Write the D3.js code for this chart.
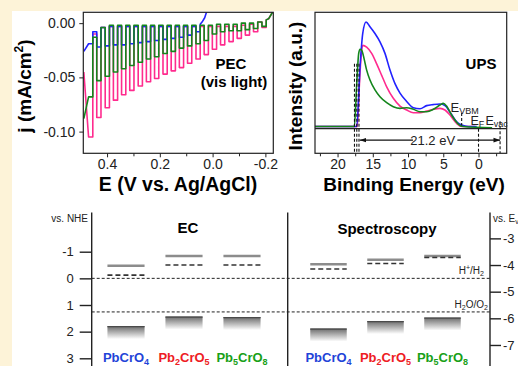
<!DOCTYPE html>
<html>
<head>
<meta charset="utf-8">
<script src="https://cdn.jsdelivr.net/npm/d3@7"></script>
<style>
  body { margin: 0; background: #fdf3d8; }
  svg { display: block; font-family: "Liberation Sans", Arial, sans-serif; }
</style>
</head>
<body>
<svg id="chart" width="518" height="366"></svg>
<script>
// ---- PEC: chopped-light sweep (E in V vs Ag/AgCl, j in mA/cm2) ----
const chopOn  = [0.470, 0.439, 0.407, 0.376, 0.345, 0.314, 0.282, 0.251, 0.220, 0.188, 0.157, 0.126, 0.095, 0.063, 0.032, 0.001, -0.030, -0.062, -0.093, -0.124, -0.155, -0.187];
const chopOff = [0.454, 0.423, 0.391, 0.360, 0.329, 0.298, 0.266, 0.235, 0.204, 0.172, 0.141, 0.110, 0.079, 0.047, 0.016, -0.015, -0.046, -0.078, -0.109, -0.140, -0.171, -0.203];

const pinkStart = [0.488, -0.045];
const pinkLight = [-0.105, -0.087, -0.078, -0.071, -0.066, -0.062, -0.058, -0.054, -0.051, -0.047, -0.044, -0.041, -0.037, -0.033, -0.029, -0.024, -0.020, -0.017, -0.014, -0.011, -0.008, -0.004];
const pinkDark  = [-0.010, -0.004, -0.003, -0.003, -0.003, -0.003, -0.003, -0.003, -0.003, -0.003, -0.003, -0.003, -0.003, -0.003, -0.003, -0.003, -0.003, -0.003, -0.002, -0.001, 0.001, 0.003];
const pinkTail  = [[-0.212, 0.004], [-0.222, 0.008], [-0.232, 0.013]];

const blueStart = [0.488, -0.026];
const blueLight = [-0.019, -0.022, -0.021, -0.020, -0.020, -0.019, -0.018, -0.017, -0.016, -0.015, -0.014, -0.013, -0.011, -0.008];
const blueDark  = [-0.008, -0.004, -0.003, -0.003, -0.003, -0.003, -0.003, -0.003, -0.003, -0.003, -0.003, -0.003, -0.003, -0.001];
const blueTail  = [[0.040, 0.001], [0.030, 0.005], [0.022, 0.011], [0.016, 0.016]];

const greenStart = [0.488, -0.088];
const greenLight = [-0.068, -0.053, -0.049, -0.045, -0.042, -0.039, -0.036, -0.033, -0.031, -0.028, -0.026, -0.023, -0.021, -0.019, -0.016, -0.010, -0.008, -0.007, -0.007, -0.006, -0.005, -0.003];
const greenDark  = [-0.013, -0.004, -0.002, -0.002, -0.002, -0.002, -0.002, -0.002, -0.002, -0.002, -0.002, -0.002, -0.002, -0.002, -0.002, -0.001, -0.001, -0.001, 0.000, 0.000, 0.001, 0.003];
const greenTail  = [[-0.212, 0.004], [-0.222, 0.008], [-0.232, 0.012]];

const pecYTicks = [0, -0.05, -0.10];
const pecXTicks = [0.4, 0.2, 0.0, -0.2];
const pecXMinor = [0.3, 0.1, -0.1];

// ---- UPS: [binding energy eV, intensity a.u.] ----
const upsBlue = [[23.2, 0], [17.6, 0], [17.28, 0], [16.81, 0.57], [16.43, 0.89], [15.96, 1.0], [15.40, 0.955], [14.69, 0.89], [13.98, 0.81], [13.27, 0.70], [12.56, 0.54], [11.85, 0.41], [11.14, 0.32], [10.19, 0.24], [9.25, 0.18], [8.30, 0.17], [7.36, 0.20], [6.41, 0.21], [5.47, 0.215], [4.76, 0.20], [4.05, 0.14], [3.10, 0.046], [2.39, 0.014], [1.45, 0], [0.26, 0]];
const upsPink = [[23.2, 0], [17.4, 0], [17.2, 0], [16.9, 0.40], [16.65, 0.68], [16.43, 0.777], [15.87, 0.76], [15.16, 0.70], [14.45, 0.60], [13.74, 0.49], [13.03, 0.38], [12.09, 0.27], [11.14, 0.196], [10.19, 0.158], [9.25, 0.132], [8.30, 0.132], [7.36, 0.148], [6.41, 0.165], [5.47, 0.174], [4.76, 0.158], [4.05, 0.11], [3.10, 0.03], [2.39, 0], [0.5, 0]];
const upsGreen = [[23.2, 0], [17.62, 0], [17.28, 0.41], [17.0, 0.70], [16.81, 0.74], [16.57, 0.73], [16.24, 0.65], [15.87, 0.54], [15.40, 0.445], [14.69, 0.35], [13.98, 0.285], [13.03, 0.228], [12.09, 0.19], [11.14, 0.174], [10.19, 0.18], [9.25, 0.165], [8.30, 0.142], [7.36, 0.142], [6.41, 0.165], [5.47, 0.206], [5.0, 0.222], [4.53, 0.196], [3.82, 0.11], [2.87, 0.024], [2.16, 0], [-1.93, -0.012]];
const upsCutoffs = [17.6, 17.27, 16.96];
const eVBM = 2.39, eFermi = 0, eVac = -3.06;
const upsXTicks = [20, 15, 10, 5, 0];
const upsXMinor = [22.5, 17.5, 12.5, 7.5, 2.5, -2.5];

// ---- Band diagram (V vs NHE) ----
const materials = ["PbCrO4", "Pb2CrO5", "Pb5CrO8"];
const ecCB    = [-0.47, -0.84, -0.84];
const ecFermi = [-0.12, -0.50, -0.50];
const ecVB    = [1.79, 1.43, 1.45];
const spCB    = [-0.53, -0.70, -0.84];
const spFermi = [-0.35, -0.56, -0.78];
const spVB    = [1.88, 1.60, 1.47];
const redoxV  = [0, 1.26];
const nheTicks = [-1, 0, 1, 2, 3];
const vacTicks = [-3, -4, -5, -6, -7];

const colPink = "#ff2b8e", colBlue = "#2222ff", colGreen = "#14861c";
const labelColors = ["#1f44d8", "#ee1c24", "#18a018"];

const svg = d3.select("#chart");
svg.append("rect").attr("x", 12).attr("y", 11).attr("width", 506).attr("height", 355).attr("fill", "#fff");

// helper: chemical formula with subscripted digits
function formula(text, str, subSize) {
  let sub = false;
  str.match(/\d+|\D+/g).forEach(tok => {
    const isNum = /\d/.test(tok);
    text.append("tspan")
      .attr("dy", isNum === sub ? 0 : (isNum ? 3 : -3))
      .attr("font-size", isNum ? subSize : null)
      .text(tok);
    sub = isNum;
  });
}

// ================= PEC panel =================
const pec = { l: 83.3, r: 273.3, t: 12.3, b: 153.3 };
const xE = d3.scaleLinear().domain([0.49, -0.23]).range([pec.l, pec.r]);
const yJ = d3.scaleLinear().domain([-0.12, 0.01]).range([pec.b, pec.t]);

svg.append("clipPath").attr("id", "clipPec")
  .append("rect").attr("x", pec.l).attr("y", pec.t).attr("width", pec.r - pec.l).attr("height", pec.b - pec.t);

function chopPoints(start, light, dark, tail) {
  const pts = [start];
  light.forEach((lv, i) => {
    if (i > 0) pts.push([chopOn[i], dark[i - 1]]);
    pts.push([chopOn[i], lv]);
    pts.push([chopOff[i], lv]);
    pts.push([chopOff[i], dark[i]]);
  });
  return pts.concat(tail);
}

const pecLine = d3.line().x(d => xE(d[0])).y(d => yJ(d[1]));
const pecG = svg.append("g").attr("clip-path", "url(#clipPec)");
[
  [chopPoints(pinkStart, pinkLight, pinkDark, pinkTail), colPink],
  [chopPoints(blueStart, blueLight, blueDark, blueTail), colBlue],
  [chopPoints(greenStart, greenLight, greenDark, greenTail), colGreen]
].forEach(([pts, c]) => {
  pecG.append("path").attr("d", pecLine(pts))
    .attr("fill", "none").attr("stroke", c).attr("stroke-width", 1.6)
    .attr("stroke-linejoin", "round");
});

svg.append("rect").attr("x", pec.l).attr("y", pec.t).attr("width", pec.r - pec.l).attr("height", pec.b - pec.t)
  .attr("fill", "none").attr("stroke", "#222").attr("stroke-width", 1.2);

const pecYAxis = svg.append("g").attr("transform", `translate(${pec.l},0)`)
  .call(d3.axisLeft(yJ).tickValues(pecYTicks).tickFormat(d => d.toFixed(2)).tickSize(4).tickPadding(4));
const pecXAxis = svg.append("g").attr("transform", `translate(0,${pec.b})`)
  .call(d3.axisBottom(xE).tickValues(pecXTicks).tickFormat(d => d.toFixed(1)).tickSize(4).tickPadding(2));
svg.append("g").attr("transform", `translate(0,${pec.b})`)
  .call(d3.axisBottom(xE).tickValues(pecXMinor).tickFormat("").tickSize(3));

svg.append("text").attr("transform", "translate(31,86) rotate(-90)").attr("text-anchor", "middle")
  .attr("font-size", 19).attr("font-weight", "bold")
  .call(t => {
    t.append("tspan").text("j (mA/cm");
    t.append("tspan").attr("font-size", 12).attr("dy", -8).text("2");
    t.append("tspan").attr("dy", 8).text(")");
  });
svg.append("text").attr("x", 178).attr("y", 190.5).attr("text-anchor", "middle")
  .attr("font-size", 19.5).attr("font-weight", "bold").text("E (V vs. Ag/AgCl)");
svg.append("text").attr("x", 231).attr("y", 69).attr("text-anchor", "middle")
  .attr("font-size", 15).attr("font-weight", "bold").text("PEC");
svg.append("text").attr("x", 234).attr("y", 87).attr("text-anchor", "middle")
  .attr("font-size", 15).attr("font-weight", "bold").text("(vis light)");

// ================= UPS panel =================
const ups = { l: 315, r: 506.7, t: 12.3, b: 153.3 };
const xB = d3.scaleLinear().domain([23.2, -4.0]).range([ups.l, ups.r]);
const yI = d3.scaleLinear().domain([-0.256, 1.093]).range([ups.b, ups.t]);

svg.append("clipPath").attr("id", "clipUps")
  .append("rect").attr("x", ups.l).attr("y", ups.t).attr("width", ups.r - ups.l).attr("height", ups.b - ups.t);
const upsG = svg.append("g").attr("clip-path", "url(#clipUps)");

const upsLine = d3.line().x(d => xB(d[0])).y(d => yI(d[1])).curve(d3.curveMonotoneX);
[[upsPink, colPink], [upsBlue, colBlue], [upsGreen, colGreen]].forEach(([pts, c]) => {
  upsG.append("path").attr("d", upsLine(pts))
    .attr("fill", "none").attr("stroke", c).attr("stroke-width", 1.6);
});

// separator under spectra
upsG.append("line").attr("x1", ups.l).attr("x2", ups.r).attr("y1", yI(-0.02)).attr("y2", yI(-0.02))
  .attr("stroke", "#222").attr("stroke-width", 1.1);

// cutoff dashed lines
upsCutoffs.forEach(e => {
  upsG.append("line").attr("x1", xB(e)).attr("x2", xB(e)).attr("y1", yI(0.6)).attr("y2", ups.b)
    .attr("stroke", "#111").attr("stroke-width", 1.1).attr("stroke-dasharray", "3,2");
});
upsG.append("line").attr("x1", xB(eVBM)).attr("x2", xB(eVBM)).attr("y1", yI(0.13)).attr("y2", yI(0.01))
  .attr("stroke", "#111").attr("stroke-width", 1.1).attr("stroke-dasharray", "3,2");
upsG.append("line").attr("x1", xB(eFermi)).attr("x2", xB(eFermi)).attr("y1", yI(-0.02)).attr("y2", ups.b)
  .attr("stroke", "#111").attr("stroke-width", 1.1).attr("stroke-dasharray", "3,2");
upsG.append("line").attr("x1", xB(eVac)).attr("x2", xB(eVac)).attr("y1", yI(0.05)).attr("y2", ups.b)
  .attr("stroke", "#111").attr("stroke-width", 1.1).attr("stroke-dasharray", "3,2");

// 21.2 eV arrow
const arrowY = yI(-0.13);
svg.append("defs").call(d => {
  d.append("marker").attr("id", "arrowHead").attr("viewBox", "0 0 10 10").attr("refX", 10).attr("refY", 5)
    .attr("markerWidth", 6).attr("markerHeight", 6).attr("orient", "auto-start-reverse")
    .append("path").attr("d", "M0,1.5L10,5L0,8.5Z").attr("fill", "#111");
});
svg.append("line").attr("x1", xB(17.0) + 1).attr("x2", xB(9.3)).attr("y1", arrowY).attr("y2", arrowY)
  .attr("stroke", "#111").attr("stroke-width", 1.1).attr("marker-start", "url(#arrowHead)");
svg.append("line").attr("x1", xB(3.0)).attr("x2", xB(eVac)).attr("y1", arrowY).attr("y2", arrowY)
  .attr("stroke", "#111").attr("stroke-width", 1.1).attr("marker-end", "url(#arrowHead)");
svg.append("text").attr("x", xB(6.5)).attr("y", arrowY + 4.5).attr("text-anchor", "middle")
  .attr("font-size", 13).attr("fill", "#222").text("21.2 eV");

svg.append("rect").attr("x", ups.l).attr("y", ups.t).attr("width", ups.r - ups.l).attr("height", ups.b - ups.t)
  .attr("fill", "none").attr("stroke", "#222").attr("stroke-width", 1.2);

const upsXAxis = svg.append("g").attr("transform", `translate(0,${ups.b})`)
  .call(d3.axisBottom(xB).tickValues(upsXTicks).tickSize(4).tickPadding(2));
svg.append("g").attr("transform", `translate(0,${ups.b})`)
  .call(d3.axisBottom(xB).tickValues(upsXMinor).tickFormat("").tickSize(3));

// level labels
function levelLabel(x, y, main, sub, size) {
  const t = svg.append("text").attr("x", x).attr("y", y).attr("font-size", size).attr("fill", "#222");
  t.append("tspan").text(main);
  t.append("tspan").attr("font-size", 9).attr("dy", 2).text(sub);
}
levelLabel(450.5, 111.5, "E", "VBM", 13);
levelLabel(470.5, 125, "E", "F", 12.5);
levelLabel(485.5, 125, "E", "vac", 12.5);

svg.append("text").attr("x", 481).attr("y", 69).attr("text-anchor", "middle")
  .attr("font-size", 15).attr("font-weight", "bold").text("UPS");
svg.append("text").attr("transform", "translate(302,86) rotate(-90)").attr("text-anchor", "middle")
  .attr("font-size", 19).attr("font-weight", "bold").text("Intensity (a.u.)");
svg.append("text").attr("x", 414).attr("y", 190.5).attr("text-anchor", "middle")
  .attr("font-size", 19).attr("font-weight", "bold").text("Binding Energy (eV)");

// style axes of both top panels
[pecYAxis, pecXAxis, upsXAxis].forEach(a => {
  a.selectAll(".domain").remove();
  a.selectAll("text").attr("font-size", 14).attr("font-family", "Liberation Sans, Arial, sans-serif").attr("fill", "#222");
});
svg.selectAll(".tick line").attr("stroke", "#222");
svg.selectAll(".domain").remove();

// ================= Band diagram =================
const band = { l: 91.7, mid: 287.7, r: 490, t: 212.5, b: 366 };
const yN = d3.scaleLinear().domain([-1, 3]).range([251.7, 358.3]);
const yVac = d3.scaleLinear().domain([-3, -7]).range([yN(-1.5), yN(2.5)]);
const xEC = d3.scaleBand().domain(materials).range([97, 271]).paddingInner(0.36).paddingOuter(0.18);
const xSP = d3.scaleBand().domain(materials).range([300, 471]).paddingInner(0.36).paddingOuter(0.18);

const grad = svg.append("defs").append("linearGradient").attr("id", "vbGrad")
  .attr("x1", 0).attr("x2", 0).attr("y1", 0).attr("y2", 1);
grad.append("stop").attr("offset", "0%").attr("stop-color", "#6a6a6a");
grad.append("stop").attr("offset", "100%").attr("stop-color", "#ffffff");

// redox lines
redoxV.forEach(v => {
  svg.append("line").attr("x1", band.l).attr("x2", band.r).attr("y1", yN(v)).attr("y2", yN(v))
    .attr("stroke", "#222").attr("stroke-width", 1).attr("stroke-dasharray", "3,2");
});
svg.append("text").attr("x", 484).attr("y", yN(0) - 4).attr("text-anchor", "end").attr("font-size", 10).attr("fill", "#222")
  .call(t => {
    t.append("tspan").text("H");
    t.append("tspan").attr("font-size", 7).attr("dy", -4).text("+");
    t.append("tspan").attr("dy", 4).text("/H");
    t.append("tspan").attr("font-size", 7).attr("dy", 2).text("2");
  });
svg.append("text").attr("x", 488).attr("y", yN(redoxV[1]) - 4).attr("text-anchor", "end").attr("font-size", 10).attr("fill", "#222")
  .call(t => {
    t.append("tspan").text("H");
    t.append("tspan").attr("font-size", 7).attr("dy", 2).text("2");
    t.append("tspan").attr("dy", -2).text("O/O");
    t.append("tspan").attr("font-size", 7).attr("dy", 2).text("2");
  });

function drawLevels(xs, cb, fermi, vb) {
  materials.forEach((m, i) => {
    const x0 = xs(m), w = xs.bandwidth();
    svg.append("rect").attr("x", x0).attr("y", yN(vb[i])).attr("width", w).attr("height", 13)
      .attr("fill", "url(#vbGrad)");
    svg.append("line").attr("x1", x0).attr("x2", x0 + w).attr("y1", yN(vb[i]) + 0.6).attr("y2", yN(vb[i]) + 0.6)
      .attr("stroke", "#4a4a4a").attr("stroke-width", 1.3);
    svg.append("line").attr("x1", x0).attr("x2", x0 + w).attr("y1", yN(cb[i])).attr("y2", yN(cb[i]))
      .attr("stroke", "#8c8c8c").attr("stroke-width", 2.4);
    svg.append("line").attr("x1", x0).attr("x2", x0 + w).attr("y1", yN(fermi[i])).attr("y2", yN(fermi[i]))
      .attr("stroke", "#333").attr("stroke-width", 1.6).attr("stroke-dasharray", "5,3");
    svg.append("text").attr("x", x0 + w / 2).attr("y", 362).attr("text-anchor", "middle")
      .attr("font-size", 13).attr("font-weight", "bold").attr("fill", labelColors[i])
      .call(t => formula(t, m, 9));
  });
}
drawLevels(xEC, ecCB, ecFermi, ecVB);
drawLevels(xSP, spCB, spFermi, spVB);

// axes lines
[band.l, band.mid, band.r].forEach(x => {
  svg.append("line").attr("x1", x).attr("x2", x).attr("y1", band.t).attr("y2", band.b)
    .attr("stroke", "#222").attr("stroke-width", 1.4);
});
const nheAxis = svg.append("g").attr("transform", `translate(${band.l},0)`)
  .call(d3.axisLeft(yN).tickValues(nheTicks).tickSize(12).tickPadding(6).tickFormat(d => String(d)));
const vacAxis = svg.append("g").attr("transform", `translate(${band.r},0)`)
  .call(d3.axisRight(yVac).tickValues(vacTicks).tickSize(11).tickPadding(2).tickFormat(d => String(d)));
[nheAxis, vacAxis].forEach(a => {
  a.select(".domain").remove();
  a.selectAll(".tick line").attr("stroke", "#222").attr("stroke-width", 1.4);
  a.selectAll("text").attr("font-size", 13).attr("fill", "#222").attr("font-family", "Liberation Sans, Arial, sans-serif");
});

svg.append("text").attr("x", 88).attr("y", 221.5).attr("text-anchor", "end").attr("font-size", 10).attr("fill", "#222").text("vs. NHE");
svg.append("text").attr("x", 493).attr("y", 221.5).attr("font-size", 10).attr("fill", "#222")
  .call(t => {
    t.append("tspan").text("vs. E");
    t.append("tspan").attr("font-size", 7).attr("dy", 2).text("vac");
  });
svg.append("text").attr("x", 188).attr("y", 233).attr("text-anchor", "middle")
  .attr("font-size", 15).attr("font-weight", "bold").text("EC");
svg.append("text").attr("x", 387).attr("y", 234).attr("text-anchor", "middle")
  .attr("font-size", 15).attr("font-weight", "bold").text("Spectroscopy");
</script>
</body>
</html>
